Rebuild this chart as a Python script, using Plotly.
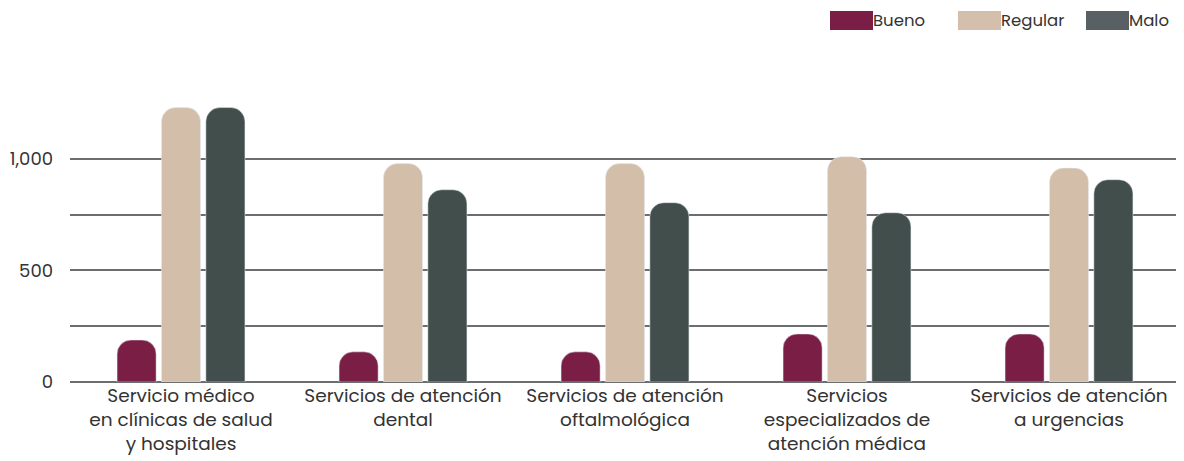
import plotly.graph_objects as go

categories = [
    "Servicio médico<br>en clínicas de salud<br>y hospitales",
    "Servicios de atención<br>dental",
    "Servicios de atención<br>oftalmológica",
    "Servicios<br>especializados de<br>atención médica",
    "Servicios de atención<br>a urgencias",
]
bueno = [188, 135, 135, 215, 215]
regular = [1229, 978, 978, 1009, 958]
malo = [1229, 861, 803, 758, 906]

series = [
    ("Bueno", bueno, "#7a1e45", "#7a1e45"),
    ("Regular", regular, "#d3bea9", "#d3bfab"),
    ("Malo", malo, "#424e4b", "#596063"),
]

fig = go.Figure()
for name, values, color, _ in series:
    fig.add_trace(go.Bar(name=name, x=categories, y=values, marker_color=color,
                         showlegend=False,
                         hovertemplate="%{y:,}<extra>" + name + "</extra>"))

# legend drawn as wide swatches + labels (paper coordinates)
swatch_left = [830, 958, 1086]
for (name, _, _, legend_color), x0 in zip(series, swatch_left):
    fig.add_shape(type="rect", xref="paper", yref="paper",
                  x0=(x0 - 70) / 1110, x1=(x0 + 43 - 70) / 1110,
                  y0=(382 - 30) / 278, y1=(382 - 11) / 278,
                  fillcolor=legend_color, line_width=0)
    fig.add_annotation(text=name, xref="paper", yref="paper",
                       x=(x0 + 42 - 70) / 1110, y=(382 - 20.5) / 278,
                       xanchor="left", yanchor="middle", showarrow=False,
                       borderpad=0,
                       font=dict(size=16.5, color="#333333"))

# page body has an 8px margin, so the figure is 8px smaller and shifted
fig.update_layout(
    width=1176, height=453,
    margin=dict(l=62, r=4, t=96, b=79),
    plot_bgcolor="white", paper_bgcolor="white",
    font=dict(family="Poppins, Open Sans, sans-serif", size=18, color="#333333"),
    barmode="group", bargap=0.4, bargroupgap=0.12, barcornerradius=14,
    showlegend=False,
)
fig.update_xaxes(showgrid=False, showline=False, ticks="", automargin=False,
                 tickfont=dict(size=18.5))
fig.update_yaxes(
    range=[0, 1245], dtick=500, tickformat=",", showline=False, automargin=False,
    gridcolor="#6b6e70", gridwidth=2, zeroline=True, zerolinecolor="#6b6e70",
    zerolinewidth=2, ticks="", ticklabelstandoff=16,
    minor=dict(dtick=250, showgrid=True, gridcolor="#6b6e70", gridwidth=1.5),
)

fig.write_html("out.html")
